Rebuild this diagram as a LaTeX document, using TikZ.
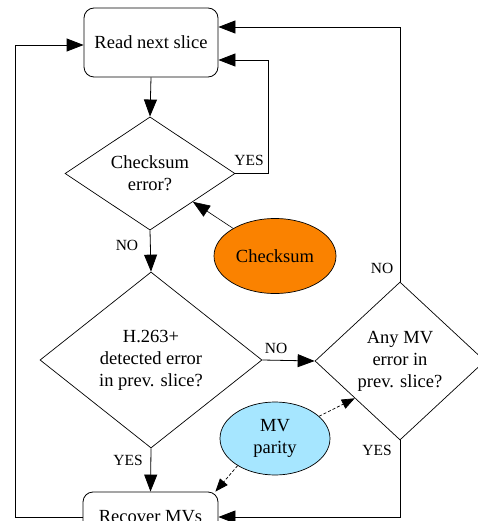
\documentclass[tikz,border=0pt]{standalone}
\usepackage{fontspec}
\setmainfont{Liberation Serif}
\usetikzlibrary{shapes.geometric,arrows.meta,calc}
\definecolor{chkorange}{RGB}{250,130,0}
\definecolor{paritybl}{RGB}{166,230,255}
\begin{document}
\begin{tikzpicture}[x=1pt,y=-1pt,
  font=\fontsize{18.5}{22}\selectfont,
  line width=0.8pt,
  procbox/.style={draw, rounded corners=10pt, align=center, inner sep=0pt},
  decision/.style={draw, diamond, align=center, inner sep=0pt, line width=0.7pt},
  source/.style={draw, ellipse, align=center, inner sep=0pt, line width=0.7pt},
  arr/.style={-{Triangle[length=17pt,width=13pt]}},
  darr/.style={-{Triangle[length=13pt,width=10pt]}, dash pattern=on 3pt off 2pt, line width=0.7pt},
  lbl/.style={font=\fontsize{15.5}{18}\selectfont, inner sep=0pt}]
\useasboundingbox (0,0) rectangle (478,521);
\clip (0,0) rectangle (478,521);

% process boxes
\node[procbox, minimum width=134pt, minimum height=69pt] (read) at (151,42.5) {Read next slice};
\node[procbox, minimum width=135pt, minimum height=50pt] (rec) at (150.5,517) {Recover MVs};

% decisions
\node[decision, minimum width=170pt, minimum height=113pt] (chk) at (150,173.5) {Checksum\\error?};
\node[decision, minimum width=222pt, minimum height=176pt] (h263) at (151,360) {H.263+\\detected error\\in prev. slice?};
\node[decision, minimum width=170pt, minimum height=158pt] (mvd) at (400,361) {Any MV\\error in\\prev. slice?};

% side information
\node[source, fill=chkorange, minimum width=122pt, minimum height=75pt] (cs) at (275,256) {Checksum};
\node[source, fill=paritybl, minimum width=110pt, minimum height=73pt] (mvp) at (275,438.5) {MV\\parity};

% main flow
\draw[arr] (read.south) -- (chk.north);
\draw[arr] (chk.south) -- (h263.north);
\draw[arr] (h263.south) -- (rec.north);
\draw[arr] (h263.east) -- (mvd.west);

% loops back
\draw[arr] (chk.east) -| (268,60) -- (read.east |- 268,60);
\draw[arr] (mvd.north) -- (400,27) -- (read.east |- 400,27);
\draw[arr] (mvd.south) |- (rec.east);
\draw[arr] (rec.west) -- (15,517) |- (read.west |- 15,45);

% side inputs
\draw[arr, line width=0.6pt] (cs) -- (chk);
\coordinate (mvin) at ($(mvd.west)!0.47!(mvd.south)$);
\draw[darr] (mvp) -- (mvin);
\draw[darr] (mvp.216) -- ([xshift=-3pt]rec.north east);

% branch labels
\node[lbl] (yes1) at (249,160) {YES};
\node[lbl] (no1) at (127,245) {NO};
\node[lbl] (no2) at (276,348) {NO};
\node[lbl] (no3) at (382,268) {NO};
\node[lbl] (yes2) at (377,450) {YES};
\node[lbl] (yes3) at (128,460) {YES};
\end{tikzpicture}
\end{document}
